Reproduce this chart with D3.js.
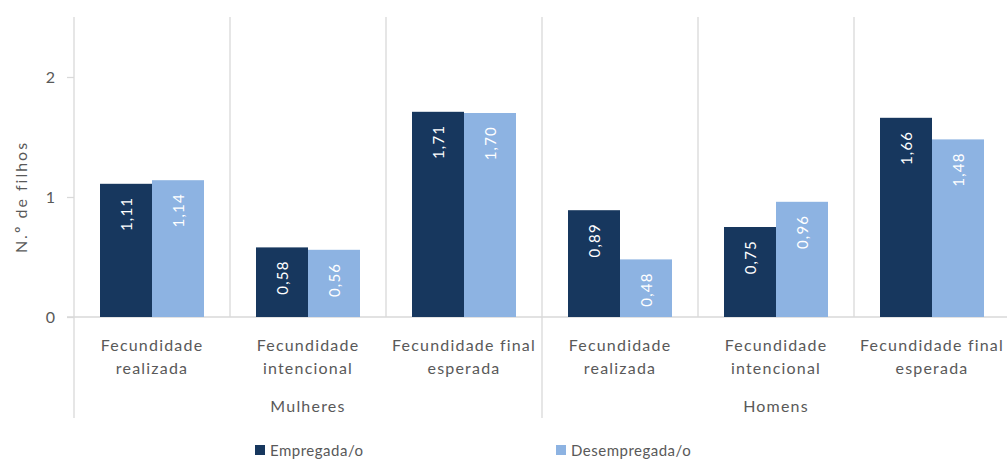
<!DOCTYPE html>
<html><head><meta charset="utf-8">
<script src="https://cdn.jsdelivr.net/npm/d3@7"></script>
<style>
html,body{margin:0;padding:0;background:#fff;}
text{font-family:Lato,"Open Sans",sans-serif;}
</style></head><body>
<svg id="chart" width="1007" height="459"></svg>
<script>
const groups = ["Mulheres", "Homens"];
const categories = [
  ["Fecundidade", "realizada"],
  ["Fecundidade", "intencional"],
  ["Fecundidade final", "esperada"],
  ["Fecundidade", "realizada"],
  ["Fecundidade", "intencional"],
  ["Fecundidade final", "esperada"]
];
const categoryGroup = [0, 0, 0, 1, 1, 1];
const seriesNames = ["Empregada/o", "Desempregada/o"];
const empregada = [1.11, 0.58, 1.71, 0.89, 0.75, 1.66];
const desempregada = [1.14, 0.56, 1.70, 0.48, 0.96, 1.48];
const yTicks = [0, 1, 2];
const colors = ["#17375e", "#8db3e2"];

(function () {
const svg = d3.select("#chart");
const pLeft = 74, pRight = 1010, pTop = 17, pBottom = 317;
const grid = "#d9d9d9", textCol = "#595959";

const x = d3.scaleBand().domain(d3.range(categories.length)).range([pLeft, pRight]).paddingInner(0).paddingOuter(0);
const xs = d3.scaleBand().domain([0, 1]).range([0, x.bandwidth()]).paddingInner(0).paddingOuter(0.5);
const y = d3.scaleLinear().domain([0, 2.5]).range([pBottom, pTop]);

const bounds = d3.range(categories.length).map(i => x(i)).slice(1);
svg.selectAll("line.vg").data(bounds).join("line")
  .attr("x1", d => d).attr("x2", d => d).attr("y1", pTop).attr("y2", pBottom)
  .attr("stroke", grid).attr("stroke-width", 1.3);

const yAxis = d3.axisLeft(y).tickValues(yTicks).tickSize(7).tickPadding(12).tickFormat(d3.format("d"));
const ya = svg.append("g").attr("transform", `translate(${pLeft},0)`).call(yAxis);
ya.select(".domain").remove();
ya.selectAll(".tick line").attr("stroke", grid).attr("stroke-width", 1.3);
ya.selectAll(".tick text").attr("fill", textCol).style("font-size", "16px").style("font-family", "Lato,sans-serif");
svg.append("line").attr("x1", pLeft).attr("x2", pLeft).attr("y1", pTop).attr("y2", 418)
  .attr("stroke", grid).attr("stroke-width", 1.3);
svg.append("line").attr("x1", pLeft - 7).attr("x2", 1007).attr("y1", pBottom).attr("y2", pBottom)
  .attr("stroke", grid).attr("stroke-width", 1.3);
const groupBounds = [x(3), pRight];
svg.selectAll("line.gs").data(groupBounds).join("line")
  .attr("x1", d => d).attr("x2", d => d).attr("y1", pBottom).attr("y2", 418)
  .attr("stroke", grid).attr("stroke-width", 1.3);

const series = [empregada, desempregada];
series.forEach((vals, s) => {
  const g = svg.append("g");
  g.selectAll("rect").data(vals).join("rect")
    .attr("x", (d, i) => x(i) + xs(s))
    .attr("width", xs.bandwidth())
    .attr("y", d => y(d))
    .attr("height", d => y(0) - y(d))
    .attr("fill", colors[s]);
  g.selectAll("text").data(vals).join("text")
    .attr("transform", (d, i) => `translate(${x(i) + xs(s) + xs.bandwidth() / 2},${y(d) + 13}) rotate(-90)`)
    .attr("text-anchor", "end")
    .attr("dominant-baseline", "central")
    .attr("fill", "#fff")
    .style("font-size", "15px")
    .style("letter-spacing", "1.2px")
    .text(d => d3.format(".2f")(d).replace(".", ","));
});

const cl = svg.append("g");
categories.forEach((lines, i) => {
  lines.forEach((t, j) => {
    cl.append("text").attr("x", x(i) + x.bandwidth() / 2).attr("y", 351 + j * 23)
      .attr("text-anchor", "middle").attr("fill", textCol)
      .style("font-size", "16px").style("letter-spacing", "1.2px").text(t);
  });
});
groups.forEach((gname, gi) => {
  const idx = d3.range(categories.length).filter(i => categoryGroup[i] === gi);
  const x0 = x(idx[0]), x1 = x(idx[idx.length - 1]) + x.bandwidth();
  svg.append("text").attr("x", (x0 + x1) / 2).attr("y", 412)
    .attr("text-anchor", "middle").attr("fill", textCol)
    .style("font-size", "16px").style("letter-spacing", "1.2px").text(gname);
});

svg.append("text").attr("transform", "translate(27,197) rotate(-90)")
  .attr("text-anchor", "middle").attr("fill", textCol)
  .style("font-size", "16px").style("letter-spacing", "2px").text("N.º de filhos");

const legX = [255, 556];
seriesNames.forEach((n, i) => {
  svg.append("rect").attr("x", legX[i]).attr("y", 445).attr("width", 10).attr("height", 10).attr("fill", colors[i]);
  svg.append("text").attr("x", legX[i] + 15).attr("y", 456).attr("fill", textCol)
    .style("font-size", "15px").style("letter-spacing", "0.5px").text(n);
});
})();
</script>
</body></html>
